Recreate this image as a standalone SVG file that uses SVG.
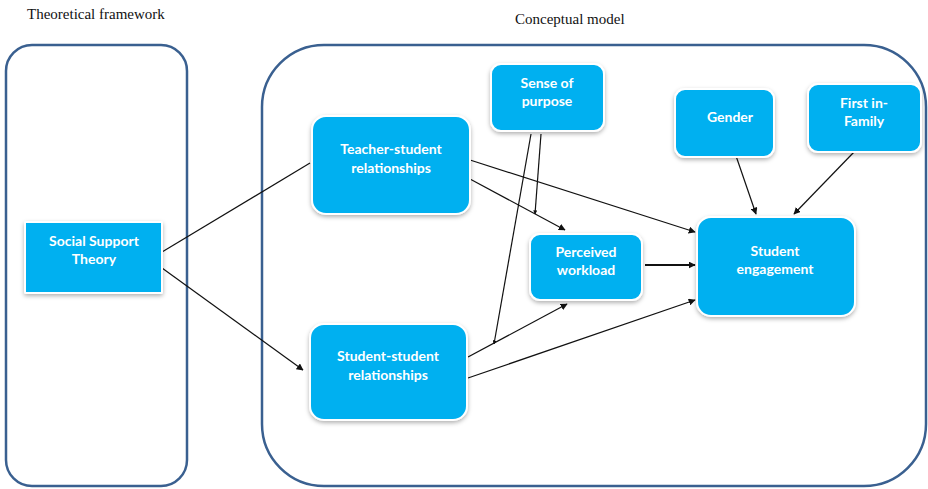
<svg xmlns="http://www.w3.org/2000/svg" width="928" height="489" viewBox="0 0 928 489">
<style>
.frame{fill:none;stroke:#3a6090;stroke-width:2.5}
.box{fill:#00b0f0;stroke:#ffffff;stroke-width:2;filter:url(#sh)}
.t{font-family:Lato,"Open Sans",sans-serif;font-weight:bold;font-size:14px;fill:#ffffff;text-anchor:middle}
.cap{font-family:"Liberation Serif",serif;font-size:15px;fill:#111}
.c{stroke:#111;stroke-width:1.2;fill:none}
</style>
<defs>
<filter id="sh" x="-20%" y="-20%" width="140%" height="140%">
<feDropShadow dx="0" dy="2" stdDeviation="2" flood-color="#000" flood-opacity="0.3"/>
</filter>
<marker id="a" viewBox="0 0 10 10" refX="9" refY="5" markerWidth="7" markerHeight="7" markerUnits="userSpaceOnUse" orient="auto">
<path d="M0,0 L10,5 L0,10 z" fill="#111"/>
</marker>
<marker id="s" viewBox="0 0 10 10" refX="9" refY="5" markerWidth="4" markerHeight="4" markerUnits="userSpaceOnUse" orient="auto">
<path d="M0,0 L10,5 L0,10 z" fill="#111"/>
</marker>
</defs>
<rect width="928" height="489" fill="#fff"/>
<text class="cap" x="27" y="19">Theoretical framework</text>
<text class="cap" x="515" y="24">Conceptual model</text>
<rect class="frame" x="6" y="45" width="181" height="441" rx="26"/>
<rect class="frame" x="262" y="45" width="664" height="441" rx="62"/>
<g id="connectors">
<line class="c" x1="162" y1="252" x2="310" y2="163"/>
<line class="c" x1="162" y1="268" x2="303" y2="370" marker-end="url(#a)"/>
<line class="c" x1="470" y1="160" x2="695" y2="232" marker-end="url(#a)"/>
<line class="c" x1="470" y1="179" x2="565" y2="230" marker-end="url(#a)"/>
<line class="c" x1="541" y1="134" x2="535" y2="214" marker-end="url(#s)"/>
<line class="c" x1="531" y1="134" x2="494" y2="344" marker-end="url(#s)"/>
<line class="c" x1="468" y1="357" x2="567" y2="304" marker-end="url(#a)"/>
<line class="c" x1="468" y1="378" x2="695" y2="300" marker-end="url(#a)"/>
<line class="c" x1="645" y1="265" x2="695" y2="265" style="stroke-width:2" marker-end="url(#a)"/>
<line class="c" x1="735" y1="153" x2="756" y2="214" marker-end="url(#a)"/>
<line class="c" x1="855" y1="151" x2="794" y2="214" marker-end="url(#a)"/>
</g>
<g id="sst"><rect class="box" x="25" y="222" width="137" height="71" rx="1"/><text class="t" x="94" y="246">Social Support</text><text class="t" x="94" y="264">Theory</text></g>
<g id="ts"><rect class="box" x="312" y="116" width="158" height="98" rx="14"/><text class="t" x="391" y="154">Teacher-student</text><text class="t" x="391" y="173">relationships</text></g>
<g id="ss"><rect class="box" x="310" y="324" width="157" height="96" rx="14"/><text class="t" x="388" y="361">Student-student</text><text class="t" x="388" y="380">relationships</text></g>
<g id="sp"><rect class="box" x="491" y="64" width="113" height="67" rx="10"/><text class="t" x="547" y="88">Sense of</text><text class="t" x="547" y="106">purpose</text></g>
<g id="pw"><rect class="box" x="530" y="234" width="112" height="66" rx="10"/><text class="t" x="586" y="257">Perceived</text><text class="t" x="586" y="275">workload</text></g>
<g id="gender"><rect class="box" x="675" y="89" width="99" height="68" rx="10"/><text class="t" x="730" y="122">Gender</text></g>
<g id="fif"><rect class="box" x="808" y="84" width="113" height="68" rx="10"/><text class="t" x="864" y="108">First in-</text><text class="t" x="864" y="126">Family</text></g>
<g id="se"><rect class="box" x="697" y="217" width="158" height="99" rx="14"/><text class="t" x="775" y="256">Student</text><text class="t" x="775" y="274">engagement</text></g>
</svg>
